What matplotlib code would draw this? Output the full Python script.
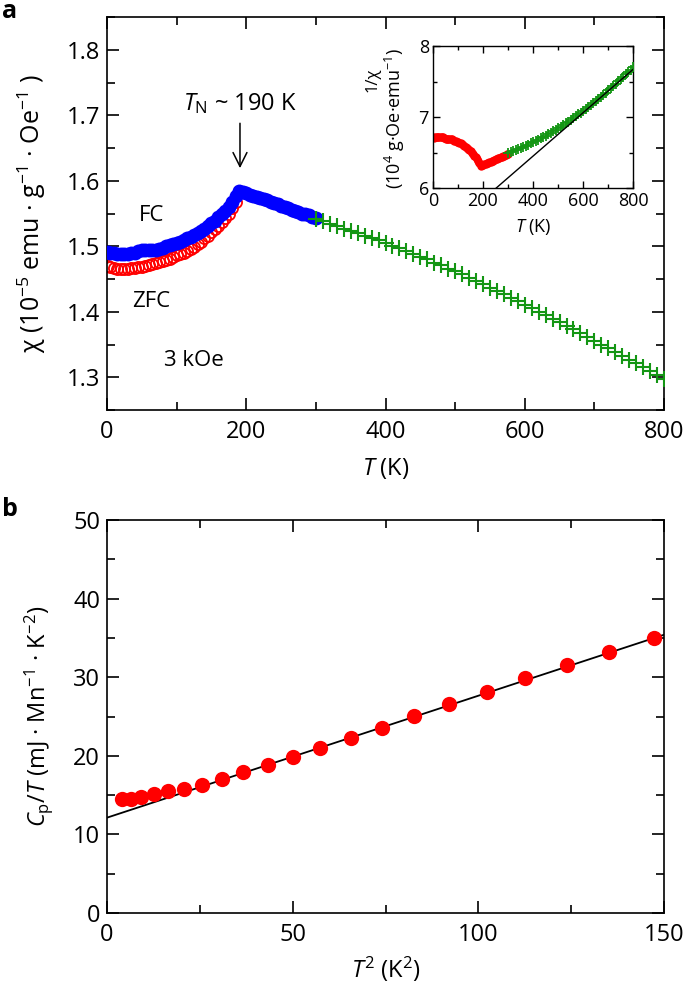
import numpy as np
import matplotlib
matplotlib.use("Agg")
import matplotlib.pyplot as plt
from matplotlib.ticker import MultipleLocator

plt.rcParams['font.family'] = ['Open Sans', 'DejaVu Sans']
plt.rcParams['mathtext.fontset'] = 'custom'
plt.rcParams['mathtext.rm'] = 'Open Sans'
plt.rcParams['mathtext.it'] = 'Open Sans:italic'
plt.rcParams['mathtext.bf'] = 'Open Sans:bold'

# ---------------- data: panel a ----------------
T_low = [2, 5, 10, 15, 20, 25, 30, 35, 40, 45, 50, 55, 60, 65, 70, 75, 80, 85, 90, 95,
         100, 105, 110, 115, 120, 125, 130, 135, 140, 145, 150, 155, 160, 165, 170, 175,
         180, 185, 190, 195, 200, 205, 210, 215, 220, 225, 230, 235, 240, 245, 250, 255,
         260, 265, 270, 275, 280, 285, 290, 295, 300]
chi_FC = [1.491, 1.490, 1.489, 1.488, 1.488, 1.488, 1.488, 1.489, 1.490, 1.492, 1.494,
          1.494, 1.494, 1.494, 1.495, 1.496, 1.498, 1.500, 1.502, 1.503, 1.505, 1.507,
          1.509, 1.512, 1.514, 1.517, 1.520, 1.524, 1.527, 1.531, 1.535, 1.539, 1.544,
          1.549, 1.554, 1.560, 1.567, 1.576, 1.585, 1.583, 1.581, 1.579, 1.577, 1.575,
          1.573, 1.572, 1.570, 1.568, 1.566, 1.564, 1.562, 1.560, 1.558, 1.556, 1.554,
          1.552, 1.550, 1.549, 1.547, 1.545, 1.543]
chi_ZFC = [1.470, 1.468, 1.467, 1.466, 1.466, 1.466, 1.466, 1.467, 1.467, 1.468, 1.469,
           1.470, 1.471, 1.473, 1.474, 1.476, 1.477, 1.479, 1.481, 1.483, 1.486, 1.488,
           1.490, 1.493, 1.496, 1.499, 1.503, 1.507, 1.512, 1.516, 1.521, 1.526, 1.531,
           1.537, 1.543, 1.550, 1.558, 1.568, 1.584, 1.583, 1.581, 1.579, 1.577, 1.575,
           1.573, 1.572, 1.570, 1.568, 1.566, 1.564, 1.562, 1.560, 1.558, 1.556, 1.554,
           1.552, 1.550, 1.549, 1.547, 1.545, 1.543]
T_high = [300, 310, 320, 330, 340, 350, 360, 370, 380, 390, 400, 410, 420, 430, 440, 450,
          460, 470, 480, 490, 500, 510, 520, 530, 540, 550, 560, 570, 580, 590, 600, 610,
          620, 630, 640, 650, 660, 670, 680, 690, 700, 710, 720, 730, 740, 750, 760, 770,
          780, 790, 800]
chi_high = [1.541, 1.538, 1.534, 1.531, 1.527, 1.524, 1.520, 1.516, 1.513, 1.509, 1.505,
            1.501, 1.497, 1.492, 1.488, 1.484, 1.480, 1.475, 1.471, 1.466, 1.462, 1.457,
            1.452, 1.447, 1.442, 1.437, 1.432, 1.427, 1.421, 1.416, 1.411, 1.406, 1.400,
            1.395, 1.389, 1.384, 1.378, 1.373, 1.367, 1.362, 1.356, 1.350, 1.344, 1.339,
            1.333, 1.327, 1.321, 1.315, 1.310, 1.304, 1.298]

# Curie-Weiss fit line for inset (1/chi, 10^4 g Oe emu^-1)
cw_T = [253, 800]
cw_inv = [6.0, 7.67]

# ---------------- data: panel b ----------------
T2 = [4.05, 6.56, 9.08, 12.7, 16.5, 20.8, 25.7, 31.0, 36.7, 43.4, 50.0, 57.4, 65.6,
      74.0, 82.7, 92.1, 102.3, 112.6, 123.8, 135.2, 147.3]
CpT = [14.55, 14.47, 14.77, 15.1, 15.5, 15.83, 16.34, 17.1, 17.9, 18.85, 19.87, 20.94,
       22.26, 23.58, 25.06, 26.55, 28.1, 29.86, 31.6, 33.17, 34.95]
fit_T2 = [0, 150]
fit_CpT = [12.13, 35.4]

RED = '#ff0000'
BLUE = '#0000ff'
GREEN = '#149614'

fig = plt.figure(figsize=(6.85, 9.90), dpi=100)

def style(ax, maj, minl, fs, pad, lw=1.2):
    for s in ax.spines.values():
        s.set_linewidth(lw)
    ax.tick_params(which='both', direction='in', top=True, right=True, width=lw)
    ax.tick_params(which='major', length=maj, labelsize=fs, pad=pad)
    ax.tick_params(which='minor', length=minl)

# ---- panel a ----
axa = fig.add_axes([107/685, 1-410/990, 557/685, 393/990])
axa.plot(T_low, chi_ZFC, 'o', ms=8, mfc='none', mec=RED, mew=1.3, zorder=2)
axa.plot(T_low, chi_FC, 'o', ms=10, mfc=BLUE, mec=BLUE, mew=0, zorder=3)
axa.plot(T_high, chi_high, '+', ms=11, color=GREEN, mew=1.5, zorder=4)
axa.set_xlim(0, 800)
axa.set_ylim(1.25, 1.85)
axa.xaxis.set_major_locator(MultipleLocator(200))
axa.xaxis.set_minor_locator(MultipleLocator(100))
axa.yaxis.set_minor_locator(MultipleLocator(0.05))
axa.set_yticks([1.3, 1.4, 1.5, 1.6, 1.7, 1.8])
style(axa, 8.5, 5.5, 17, 5)
axa.tick_params(axis='x', pad=7)
axa.set_xlabel('$T$ (K)', fontsize=17, labelpad=9)
axa.set_ylabel('χ (10$^{-5}$ emu · g$^{-1}$ · Oe$^{-1}$ )', fontsize=18, labelpad=13)
axa.annotate('', xy=(191, 1.615), xytext=(191, 1.692),
             arrowprops=dict(arrowstyle='->', color='black', lw=1.1, mutation_scale=25))
axa.text(191, 1.717, '$T_{\\rm N}$ ~ 190 K', fontsize=17, ha='center', va='center')
axa.text(64, 1.547, 'FC', fontsize=16, ha='center', va='center')
axa.text(63, 1.415, 'ZFC', fontsize=16, ha='center', va='center')
axa.text(125, 1.326, '3 kOe', fontsize=16, ha='center', va='center')
fig.text(2/685, 1-12/990, 'a', fontsize=18, fontweight='bold', ha='left', va='center')

# ---- inset ----
axi = fig.add_axes([433/685, 1-188/990, 200/685, 142/990])
inv_low = [10.0/c for c in chi_FC]
inv_high = [10.0/c for c in chi_high]
axi.plot(T_low, inv_low, 'o', ms=6, color=RED, mew=0, zorder=2)
axi.plot(T_high, inv_high, '+', ms=6.5, color=GREEN, mew=1.3, zorder=3)
axi.plot(cw_T, cw_inv, '-', color='black', lw=1.0, zorder=4)
axi.set_xlim(0, 800)
axi.set_ylim(6, 8)
axi.xaxis.set_major_locator(MultipleLocator(200))
axi.xaxis.set_minor_locator(MultipleLocator(100))
axi.yaxis.set_major_locator(MultipleLocator(1))
axi.yaxis.set_minor_locator(MultipleLocator(0.5))
style(axi, 5, 3, 13, 3, lw=1.0)
axi.set_xlabel('$T$ (K)', fontsize=13, labelpad=5)
fig.text(373/685, 1-80/990, '1/χ', fontsize=12, rotation=90, ha='center', va='center')
fig.text(395/685, 1-118/990, '(10$^{4}$ g·Oe·emu$^{-1}$)', fontsize=13, rotation=90,
         ha='center', va='center')

# ---- panel b ----
axb = fig.add_axes([107/685, 1-913/990, 557/685, 393/990])
axb.plot(fit_T2, fit_CpT, '-', color='black', lw=1.3, zorder=2)
axb.plot(T2, CpT, 'o', ms=11, color=RED, mew=0, zorder=3)
axb.set_xlim(0, 150)
axb.set_ylim(0, 50)
axb.xaxis.set_major_locator(MultipleLocator(50))
axb.xaxis.set_minor_locator(MultipleLocator(25))
axb.yaxis.set_major_locator(MultipleLocator(10))
axb.yaxis.set_minor_locator(MultipleLocator(5))
style(axb, 8.5, 5.5, 17, 5)
axb.tick_params(axis='x', pad=7)
axb.set_xlabel('$T^{2}$ (K$^{2}$)', fontsize=17, labelpad=6)
axb.set_ylabel('$C_{\\rm p}$/$T$ (mJ · Mn$^{-1}$ · K$^{-2}$)', fontsize=17, labelpad=13)
fig.text(2/685, 1-509/990, 'b', fontsize=18, fontweight='bold', ha='left', va='center')

fig.savefig('out.png', dpi=100)
